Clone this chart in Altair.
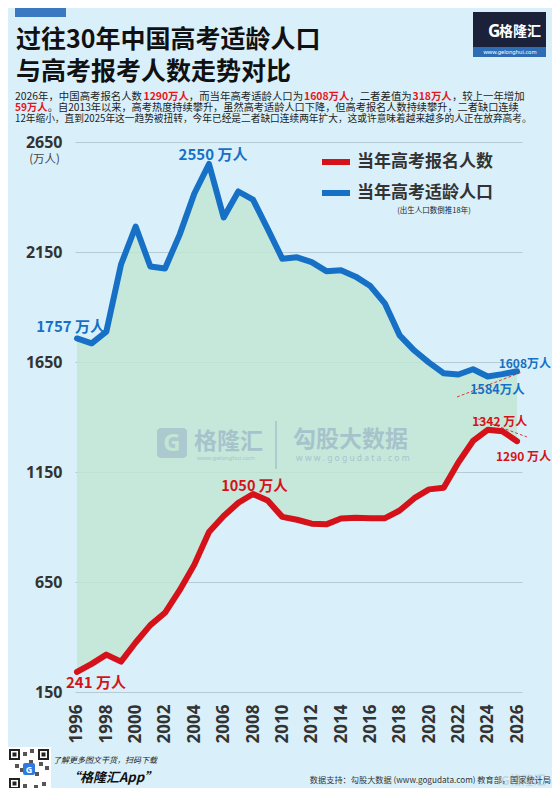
import altair as alt
import pandas as pd

# ---------------- data ----------------
years = list(range(1996, 2027))
applicants = [241, 278, 320, 288, 375, 454, 510, 613, 729, 877, 950, 1010, 1050, 1020, 946,
              933, 915, 912, 939, 942, 940, 940, 975, 1031, 1071, 1078, 1193, 1291, 1342, 1335, 1290]
population = [1757, 1735, 1788, 2093, 2266, 2084, 2075, 2229, 2416, 2550, 2307, 2425, 2388, 2255, 2119,
              2126, 2104, 2063, 2067, 2038, 1995, 1915, 1771, 1702, 1647, 1599, 1593, 1617, 1584, 1595, 1608]
y_ticks = [150, 650, 1150, 1650, 2150, 2650]
x_ticks = list(range(1996, 2027, 2))

title_lines = ["过往30年中国高考适龄人口", "与高考报考人数走势对比"]
sub_lines = [
    [("2026年，中国高考报名人数", "k"), ("1290万人", "r"), ("，而当年高考适龄人口为", "k"),
     ("1608万人", "r"), ("，二者差值为", "k"), ("318万人", "r"), ("，较上一年增加", "k")],
    [("59万人", "r"), ("。自2013年以来，高考热度持续攀升，虽然高考适龄人口下降，但高考报名人数持续攀升，二者缺口连续", "k")],
    [("12年缩小，直到2025年这一趋势被扭转，今年已经是二者缺口连续两年扩大，这或许意味着越来越多的人正在放弃高考。", "k")],
]
legend_names = ["当年高考报名人数", "当年高考适龄人口"]

# ---------------- style ----------------
BG = "#d9f0fa"
BLUE = "#1670c6"
RED = "#d51219"
AREA = "#c1e6d2"
WM = "#a6c3cc"
FONT = "Noto Sans CJK SC"
AXFONT = "Noto Sans"

df = pd.DataFrame({"year": years, "applicants": applicants, "population": population})
one = pd.DataFrame({"k": [0]})

x_scale = alt.Scale(domain=[1995.864, 2026.34], nice=False)
y_scale = alt.Scale(domain=[150, 2650], nice=False, zero=False)

X_AXIS = alt.Axis(values=x_ticks, format="d", labelAngle=270, labelAlign="right",
                  labelBaseline="middle", labelFont=AXFONT, labelFontSize=17,
                  labelFontWeight="bold", labelColor="#333333", labelPadding=12,
                  labelOverlap=False, labelFlush=False, ticks=False, domain=False,
                  grid=False, title=None)
Y_AXIS = alt.Axis(values=y_ticks, format="d", labelFont=AXFONT, labelFontSize=16,
                  labelFontWeight="bold", labelColor="#333333", labelPadding=13,
                  ticks=False, domain=False, grid=True, gridColor="#b6cad3", gridWidth=1.2,
                  title=None)


def X():
    return alt.X("year:Q", scale=x_scale, axis=X_AXIS, title=None)


def Y(field):
    return alt.Y(f"{field}:Q", scale=y_scale, axis=Y_AXIS, title=None)


area = alt.Chart(df).mark_area(color=AREA, opacity=0.8).encode(
    x=X(), y=Y("population"), y2="applicants:Q")

blue_line = alt.Chart(df).mark_line(color=BLUE, strokeWidth=6, strokeJoin="round", strokeCap="round").encode(
    x=X(), y=Y("population"))
red_line = alt.Chart(df).mark_line(color=RED, strokeWidth=6, strokeJoin="round", strokeCap="round").encode(
    x=X(), y=Y("applicants"))


def point_label(field, year, sep, color, size, align, dx, dy):
    vals = population if field == "population" else applicants
    v = vals[years.index(year)]
    return alt.Chart(df).transform_filter(alt.datum.year == year).mark_text(
        text=f"{v}{sep}万人", color=color, fontSize=size, font=FONT, fontWeight="bold",
        align=align, baseline="middle", dx=dx, dy=dy).encode(x=X(), y=Y(field))


labels = [
    point_label("population", 2005, " ", BLUE, 15, "center", 4, -9),
    point_label("population", 1996, " ", BLUE, 15, "right", 28, -11.5),
    point_label("population", 2026, "", BLUE, 12, "right", 34, -7.5),
    point_label("population", 2024, "", BLUE, 12.5, "left", -17.5, 13.5),
    point_label("applicants", 2024, " ", RED, 12, "left", -15.5, -8),
    point_label("applicants", 2026, " ", RED, 12, "right", 34, 15.5),
    point_label("applicants", 2008, " ", RED, 14.5, "center", 1.5, -7.5),
    point_label("applicants", 1996, " ", RED, 15, "left", -11, 11.5),
]


def ftext(text, x, y, size, color="#222222", weight="normal", align="left", baseline="middle",
          font=FONT, italic=False, opacity=1.0):
    kw = dict(fontSize=size, color=color, fontWeight=weight, align=align, baseline=baseline,
              font=font, opacity=opacity)
    if italic:
        kw["fontStyle"] = "italic"
    return alt.Chart(one).mark_text(**kw).encode(x=alt.value(x), y=alt.value(y), text=alt.value(text))


def frect(x1, x2, y1, y2, color, opacity=1.0, radius=0):
    kw = dict(color=color, opacity=opacity)
    if radius:
        kw["cornerRadius"] = radius
    return alt.Chart(one).mark_rect(**kw).encode(
        x=alt.value(x1), x2=alt.value(x2), y=alt.value(y1), y2=alt.value(y2))


def frule(x1, y1, x2, y2, color, width, dash=None, cap="butt"):
    kw = dict(color=color, strokeWidth=width, strokeCap=cap)
    if dash:
        kw["strokeDash"] = dash
    return alt.Chart(one).mark_rule(**kw).encode(
        x=alt.value(x1), y=alt.value(y1), x2=alt.value(x2), y2=alt.value(y2))


def text_width(s, fs):
    w = 0.0
    for ch in s:
        if ch.isdigit():
            w += 0.57
        elif ord(ch) < 128:
            w += 0.5
        else:
            w += 1.0
    return w * fs + 0.8


deco = []
# header block
deco.append(frect(-60, -9, -142, -125, "#3a78c1"))
deco.append(ftext(title_lines[0], -59, -102, 25, "#111111", "bold"))
deco.append(ftext(title_lines[1], -59, -70, 25, "#111111", "bold"))
# logo top right
deco.append(frect(398, 471, -130, -85, "#1a2139"))
deco.append(frect(398, 471, -95, -85, "#2d6db5"))
deco.append(ftext("G", 413, -110, 17, "#ffffff", "bold", font=AXFONT))
deco.append(ftext("格隆汇", 424, -110, 14, "#ffffff", "bold"))
deco.append(ftext("www.gelonghui.com", 435, -90, 5.5, "#ffffff", align="center", font=AXFONT))

# subtitle with coloured runs
sub_sizes = [10.4, 10.2, 9.7]
sub_y = [-45.5, -34.5, -23.5]
for segs, fs, yy in zip(sub_lines, sub_sizes, sub_y):
    xx = -60.0
    for s, c in segs:
        if c == "r":
            deco.append(ftext(s, xx, yy, fs, "#e8141c", "bold"))
        else:
            deco.append(ftext(s, xx, yy, fs, "#1e1e1e"))
        xx += text_width(s, fs)

# unit label
deco.append(ftext("(万人)", -15, 18, 11.5, "#444444", align="right"))

# legend
deco.append(frule(247, 20, 275, 20, RED, 6))
deco.append(frule(247, 51, 275, 51, BLUE, 6))
deco.append(ftext(legend_names[0], 282, 20, 17, "#333333", "bold"))
deco.append(ftext(legend_names[1], 282, 51, 17, "#333333", "bold"))
deco.append(ftext("(出生人口数倒推18年)", 359, 69, 7.5, "#222222", align="center"))

# watermark
deco.append(frect(82, 112, 286, 316, WM, 0.85, 4))
deco.append(ftext("G", 97, 302, 24, AREA, "bold", align="center", font=AXFONT))
deco.append(ftext("格隆汇", 119, 300, 23, WM, "bold"))
deco.append(ftext("www.gelonghui.com", 122, 316, 6, WM, font=AXFONT))
deco.append(frule(201, 279, 201, 327, WM, 1.5))
deco.append(ftext("勾股大数据", 218, 298, 23, WM, "bold"))
deco.append(ftext(" ".join("www.gogudata.com"), 221, 316, 8.5, WM, font=AXFONT))

# leader lines
deco.append(frule(382, 255, 447, 230, RED, 0.8, [3, 2]))
deco.append(frule(398, 275, 452, 295, RED, 0.8, [3, 2]))

# footer
deco.append(frect(-67, -24, 605, 650, "#ffffff"))
for qx, qy in [(-66, 607), (-37, 607), (-66, 636)]:
    deco.append(frect(qx, qx + 11, qy, qy + 11, "#222222"))
    deco.append(frect(qx + 2, qx + 9, qy + 2, qy + 9, "#ffffff"))
    deco.append(frect(qx + 3.5, qx + 7.5, qy + 3.5, qy + 7.5, "#222222"))
for qx, qy in [(-52, 610), (-46, 618), (-40, 630), (-33, 640), (-52, 642), (-30, 624), (-55, 626),
               (-45, 607), (-36, 620), (-60, 622), (-41, 643)]:
    deco.append(frect(qx, qx + 4, qy, qy + 4, "#555555"))
deco.append(frect(-52, -40, 621, 633, "#2d7be0", 1, 2))
deco.append(ftext("G", -46, 627.5, 9, "#ffffff", "bold", align="center", font=AXFONT))
deco.append(ftext("了解更多图文干货，扫码下载", -22, 619, 8, "#222222", italic=True))
deco.append(ftext("“格隆汇App”", -8, 636, 13, "#111111", "bold", italic=True))
deco.append(ftext("G格隆汇", 426, 639, 12, "#9fb8c2", "bold", opacity=0.45))
deco.append(ftext("数据支持：勾股大数据 (www.gogudata.com) 教育部，国家统计局", 476, 639, 8.2, "#333333",
                  align="right"))

chart = alt.layer(area, blue_line, red_line, *labels, *deco).properties(
    width=447, height=550,
    padding={"left": 67, "top": 134, "right": 30, "bottom": 96},
    autosize=alt.AutoSizeParams(type="none"),
    background=BG,
).configure_view(stroke=None)

chart.save("out.html", embed_options={"renderer": "svg", "actions": False})
